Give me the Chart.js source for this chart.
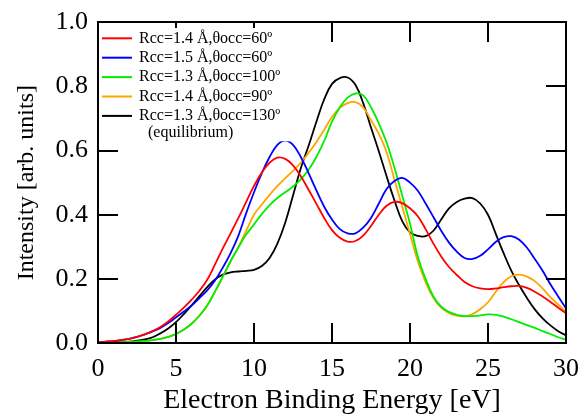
<!DOCTYPE html>
<html>
<head>
<meta charset="utf-8">
<script src="https://cdn.jsdelivr.net/npm/chart.js@4.4.0/dist/chart.umd.min.js"></script>
<style>
  html, body { margin: 0; padding: 0; background: #fff; }
  #wrap { position: relative; width: 581px; height: 415px; }
  #wrap canvas { position: absolute; left: 0; top: 0; }
  .frame { position: absolute; box-sizing: border-box; border: 2px solid #000; pointer-events: none; }
  .tick { position: absolute; background: #000; pointer-events: none; }
</style>
</head>
<body>
<div id="wrap"><canvas id="spectrumChart" width="581" height="415"></canvas></div>
<script>
  // electron binding energy grid (eV)
  const energy = [0, 0.5, 1, 1.5, 2, 2.5, 3, 3.5, 4, 4.5, 5, 5.5, 6, 6.5, 7, 7.5, 8, 8.5, 9, 9.5,
    10, 10.5, 11, 11.5, 12, 12.5, 13, 13.5, 14, 14.5, 15, 15.5, 16, 16.5, 17, 17.5, 18, 18.5, 19, 19.5,
    20, 20.5, 21, 21.5, 22, 22.5, 23, 23.5, 24, 24.5, 25, 25.5, 26, 26.5, 27, 27.5, 28, 28.5, 29, 29.5, 30];

  const rcc14_60 = [0.002, 0.004, 0.006, 0.009, 0.013, 0.019, 0.027, 0.037, 0.05, 0.067,
    0.088, 0.11, 0.135, 0.163, 0.197, 0.245, 0.295, 0.342, 0.39, 0.44,
    0.49, 0.532, 0.562, 0.578, 0.574, 0.554, 0.52, 0.478, 0.434, 0.39,
    0.352, 0.328, 0.316, 0.318, 0.335, 0.365, 0.4, 0.428, 0.44, 0.436,
    0.42, 0.395, 0.355, 0.31, 0.27, 0.237, 0.212, 0.19, 0.177, 0.17,
    0.168, 0.17, 0.174, 0.177, 0.178, 0.172, 0.16, 0.145, 0.128, 0.11, 0.093];

  const rcc15_60 = [0.002, 0.004, 0.006, 0.009, 0.013, 0.019, 0.027, 0.036, 0.047, 0.062,
    0.08, 0.098, 0.117, 0.14, 0.164, 0.195, 0.235, 0.28, 0.335, 0.405,
    0.47, 0.53, 0.58, 0.618, 0.631, 0.618, 0.58, 0.53, 0.476, 0.425,
    0.385, 0.355, 0.342, 0.342, 0.36, 0.39, 0.435, 0.48, 0.505, 0.515,
    0.5, 0.475, 0.435, 0.393, 0.35, 0.313, 0.285, 0.265, 0.262, 0.272,
    0.292, 0.315, 0.33, 0.333, 0.322, 0.297, 0.262, 0.225, 0.183, 0.145, 0.108];

  const rcc13_100 = [0, 0.001, 0.001, 0.002, 0.003, 0.004, 0.006, 0.009, 0.013, 0.019,
    0.028, 0.042, 0.06, 0.085, 0.117, 0.16, 0.207, 0.255, 0.298, 0.338,
    0.37, 0.402, 0.43, 0.452, 0.47, 0.488, 0.51, 0.54, 0.58, 0.63,
    0.69, 0.735, 0.765, 0.778, 0.772, 0.735, 0.685, 0.625, 0.547, 0.46,
    0.372, 0.27, 0.2, 0.145, 0.113, 0.097, 0.088, 0.084, 0.084, 0.086,
    0.089, 0.088, 0.082, 0.074, 0.065, 0.056, 0.047, 0.037, 0.028, 0.018, 0.01];

  const rcc14_90 = [0, 0.001, 0.001, 0.002, 0.003, 0.004, 0.006, 0.009, 0.013, 0.019,
    0.028, 0.042, 0.06, 0.085, 0.117, 0.16, 0.207, 0.255, 0.3, 0.35,
    0.4, 0.432, 0.462, 0.49, 0.514, 0.537, 0.562, 0.593, 0.627, 0.665,
    0.705, 0.733, 0.748, 0.751, 0.735, 0.695, 0.652, 0.595, 0.51, 0.425,
    0.34, 0.255, 0.19, 0.14, 0.11, 0.093, 0.085, 0.083, 0.09, 0.105,
    0.127, 0.16, 0.19, 0.208, 0.213, 0.207, 0.193, 0.17, 0.143, 0.12, 0.097];

  const rcc13_130 = [0.001, 0.001, 0.002, 0.003, 0.004, 0.007, 0.011, 0.018, 0.03, 0.045,
    0.065, 0.09, 0.117, 0.146, 0.174, 0.198, 0.213, 0.22, 0.223, 0.225,
    0.228, 0.24, 0.265, 0.31, 0.375, 0.46, 0.545, 0.615, 0.69, 0.76,
    0.808, 0.826, 0.828, 0.805, 0.748, 0.672, 0.598, 0.52, 0.445, 0.38,
    0.345, 0.334, 0.333, 0.35, 0.385, 0.42, 0.44, 0.45, 0.452, 0.435,
    0.4, 0.34, 0.28, 0.225, 0.18, 0.14, 0.105, 0.077, 0.055, 0.037, 0.024];

  const seriesLabels = ['Rcc=1.4 Å,θocc=60º', 'Rcc=1.5 Å,θocc=60º', 'Rcc=1.3 Å,θocc=100º',
    'Rcc=1.4 Å,θocc=90º', 'Rcc=1.3 Å,θocc=130º'];
  const equilibriumNote = '(equilibrium)';
  const seriesColors = ['#ff0000', '#0000ff', '#00ee00', '#ffa500', '#000000'];
  const seriesValues = [rcc14_60, rcc15_60, rcc13_100, rcc14_90, rcc13_130];

  const xTicks = [0, 5, 10, 15, 20, 25, 30];
  const yTicks = [0, 0.2, 0.4, 0.6, 0.8, 1.0];

  const serif = "'Liberation Serif', 'Times New Roman', serif";
  const TICK = 20;

  // legend box sits inside the plot, offsets from the top-left corner of the chart area
  const legendBox = { dx: 2, dy: 6, w: 192, h: 113 };

  // boxed legend in the upper left corner of the plot
  const legendPlugin = {
    id: 'cornerLegend',
    afterDraw(chart) {
      const c = chart.ctx;
      const a = chart.chartArea;
      c.save();
      c.fillStyle = 'white';
      c.fillRect(a.left + legendBox.dx, a.top + legendBox.dy, legendBox.w, legendBox.h);
      c.font = '16px ' + serif;
      c.textBaseline = 'middle';
      c.textAlign = 'left';
      c.lineWidth = 2;
      chart.data.datasets.forEach((ds, i) => {
        const y = a.top + 16 + i * 19.4;
        c.strokeStyle = ds.borderColor;
        c.beginPath();
        c.moveTo(a.left + 4, y);
        c.lineTo(a.left + 34, y);
        c.stroke();
        c.fillStyle = 'black';
        c.fillText(ds.label, a.left + 41, y);
      });
      c.fillText(equilibriumNote, a.left + 50, a.top + 110);
      c.restore();
    }
  };

  // frame and inward ticks as positioned elements over the canvas,
  // placed from the chart area and the scales' pixel positions
  const framePlugin = {
    id: 'domFrame',
    afterRender(chart) {
      const wrap = document.getElementById('wrap');
      wrap.querySelectorAll('.frame, .tick').forEach(el => el.remove());
      const a = chart.chartArea;
      const xs = chart.scales.x;
      const ys = chart.scales.y;
      const boxL = a.left + legendBox.dx, boxR = boxL + legendBox.w;
      const boxT = a.top + legendBox.dy, boxB = boxT + legendBox.h;

      const add = (cls, l, t, w, h) => {
        const d = document.createElement('div');
        d.className = cls;
        d.style.left = l + 'px';
        d.style.top = t + 'px';
        d.style.width = w + 'px';
        d.style.height = h + 'px';
        wrap.appendChild(d);
      };

      add('frame', a.left - 1, a.top - 1, a.right - a.left + 2, a.bottom - a.top + 2);

      for (let i = 1; i < xTicks.length - 1; i++) {
        const px = Math.round(xs.getPixelForValue(xTicks[i]));
        add('tick', px - 1, a.bottom - TICK, 2, TICK);
        const under = px >= boxL && px <= boxR;
        const len = under ? boxT - a.top : TICK;
        add('tick', px - 1, a.top, 2, len);
      }
      for (let i = 1; i < yTicks.length - 1; i++) {
        const py = Math.round(ys.getPixelForValue(yTicks[i]));
        if (!(py >= boxT && py <= boxB)) add('tick', a.left, py - 1, TICK, 2);
        add('tick', a.right - TICK, py - 1, TICK, 2);
      }
    }
  };

  const ctx = document.getElementById('spectrumChart').getContext('2d');
  new Chart(ctx, {
    type: 'line',
    data: {
      datasets: seriesValues.map((vals, i) => ({
        label: seriesLabels[i],
        data: energy.map((e, k) => ({ x: e, y: vals[k] })),
        borderColor: seriesColors[i],
        backgroundColor: seriesColors[i],
        borderWidth: 1.8,
        pointRadius: 0,
        tension: 0.4,
        fill: false
      }))
    },
    options: {
      responsive: false,
      animation: false,
      layout: { padding: { top: 22.3, right: 15, bottom: 0, left: 0 } },
      plugins: {
        legend: { display: false },
        tooltip: { enabled: false }
      },
      scales: {
        x: {
          type: 'linear',
          position: 'bottom',
          min: 0,
          max: 30,
          afterFit: s => { s.height = 72; s.paddingLeft = 0; s.paddingRight = 0; },
          afterBuildTicks: s => { s.ticks = xTicks.map(v => ({ value: v })); },
          grid: { display: false, drawTicks: false },
          border: { display: false },
          ticks: {
            padding: 11,
            color: '#000',
            font: { family: serif, size: 26 },
            maxRotation: 0
          },
          title: {
            display: true,
            text: 'Electron Binding Energy [eV]',
            color: '#000',
            font: { family: serif, size: 28 },
            padding: { top: 0, bottom: -2 }
          }
        },
        y: {
          position: 'left',
          min: 0,
          max: 1,
          afterFit: s => { s.width = 98; s.paddingTop = 0; s.paddingBottom = 0; },
          afterBuildTicks: s => { s.ticks = yTicks.map(v => ({ value: v })); },
          grid: { display: false, drawTicks: false },
          border: { display: false },
          ticks: {
            padding: 10,
            color: '#000',
            font: { family: serif, size: 26 },
            callback: v => v.toFixed(1)
          },
          title: {
            display: true,
            text: 'Intensity [arb. units]',
            color: '#000',
            font: { family: serif, size: 24 },
            padding: { top: 12 }
          }
        }
      }
    },
    plugins: [legendPlugin, framePlugin]
  });
</script>
</body>
</html>
